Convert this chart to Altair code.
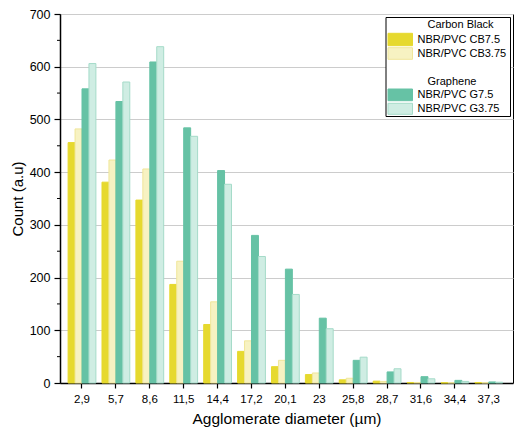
import altair as alt
import pandas as pd

# ---- data ----
diameters = ["2,9", "5,7", "8,6", "11,5", "14,4", "17,2", "20,1", "23", "25,8", "28,7", "31,6", "34,4", "37,3"]
cb75 = [456, 381, 347, 187, 111, 60, 31, 16, 6, 3.5, 1, 0.5, 1]
cb375 = [482, 423, 406, 231, 154, 80, 43, 19, 9, 3, 1, 0.5, 0.5]
g75 = [558, 534, 609, 484, 403, 280, 216, 123, 43, 21, 12, 5, 2]
g375 = [606, 571, 638, 468, 377, 240, 168, 103, 49, 27, 8, 3, 1.5]
series_names = ["NBR/PVC CB7.5", "NBR/PVC CB3.75", "NBR/PVC G7.5", "NBR/PVC G3.75"]
fill_colors = ["#E6D92E", "#F7F2C2", "#66C2A5", "#CFEDE3"]
stroke_colors = ["#E6D92E", "#F0E69A", "#66C2A5", "#A5DBC9"]
y_ticks = [0, 100, 200, 300, 400, 500, 600, 700]
y_minor = [50, 150, 250, 350, 450, 550, 650]
group_titles = ["Carbon Black", "Graphene"]

FONT = "Liberation Sans"

rows = []
for name, vals in zip(series_names, [cb75, cb375, g75, g375]):
    for d, v in zip(diameters, vals):
        rows.append({"d": d, "s": name, "v": v})
df = pd.DataFrame(rows)

yscale = alt.Scale(domain=[0, 700], nice=False)
yaxis = alt.Axis(values=y_ticks, grid=True, gridColor="#cccccc", tickSize=6,
                 labelFontSize=12.5, labelPadding=4, title="Count (a.u)",
                 titleFontSize=15, titlePadding=4, domainWidth=1.5, tickWidth=1.2)

bars = alt.Chart(df).mark_bar(strokeWidth=1).encode(
    x=alt.X("d:N", sort=diameters,
            scale=alt.Scale(paddingInner=0.18, paddingOuter=0.2715, align=0.44),
            axis=alt.Axis(labelAngle=0, tickSize=5, labelFontSize=11.5, labelPadding=5,
                          title="Agglomerate diameter (µm)", titleFontSize=15.5, titlePadding=6.5,
                          domainWidth=1.5, tickWidth=1.2, grid=False)),
    xOffset=alt.XOffset("s:N", sort=series_names,
                        scale=alt.Scale(domain=series_names, paddingInner=0, paddingOuter=0)),
    y=alt.Y("v:Q", scale=yscale, axis=yaxis),
    fill=alt.Fill("s:N", scale=alt.Scale(domain=series_names, range=fill_colors), legend=None),
    stroke=alt.Stroke("s:N", scale=alt.Scale(domain=series_names, range=stroke_colors), legend=None),
)

minor = alt.Chart(pd.DataFrame({"v": y_minor})).mark_rule(color="black", strokeWidth=1).encode(
    y=alt.Y("v:Q", scale=yscale, axis=yaxis),
    x=alt.value(-3), x2=alt.value(0),
)

one = pd.DataFrame({"k": [0]})
layers = [bars, minor]

# legend box
layers.append(alt.Chart(one).mark_rect(fill="white", stroke="black", strokeWidth=1).encode(
    x=alt.value(326), x2=alt.value(450.5), y=alt.value(3.5), y2=alt.value(102.5)))

# group titles
for t, yy in zip(group_titles, [11, 67.5]):
    layers.append(alt.Chart(one).mark_text(text=t, font=FONT, fontSize=11, align="left",
                                           baseline="middle", color="black").encode(
        x=alt.value(367.5), y=alt.value(yy)))

sym_y = [(19.3, 31.7), (33.7, 45.3), (75, 86.7), (89.3, 100.3)]
lab_y = [26, 39.5, 81, 95]
for name, fc, sc, (y1, y2), ly in zip(series_names, fill_colors, stroke_colors, sym_y, lab_y):
    layers.append(alt.Chart(one).mark_rect(fill=fc, stroke=sc, strokeWidth=1).encode(
        x=alt.value(328), x2=alt.value(352.5), y=alt.value(y1), y2=alt.value(y2)))
    layers.append(alt.Chart(one).mark_text(text=name, font=FONT, fontSize=11, align="left",
                                           baseline="middle", color="black").encode(
        x=alt.value(357.5), y=alt.value(ly)))

chart = alt.layer(*layers).properties(
    width=453, height=369,
    autosize=alt.AutoSizeParams(type="none"),
    padding={"left": 52, "top": 6, "right": 1, "bottom": 46},
).configure_view(stroke="black", strokeWidth=1).configure_axis(
    labelFont=FONT, titleFont=FONT, labelColor="black", titleColor="black",
    domainColor="black", tickColor="black", titleFontWeight="normal",
)

chart.save("out.html", embed_options={"renderer": "svg", "actions": False})
